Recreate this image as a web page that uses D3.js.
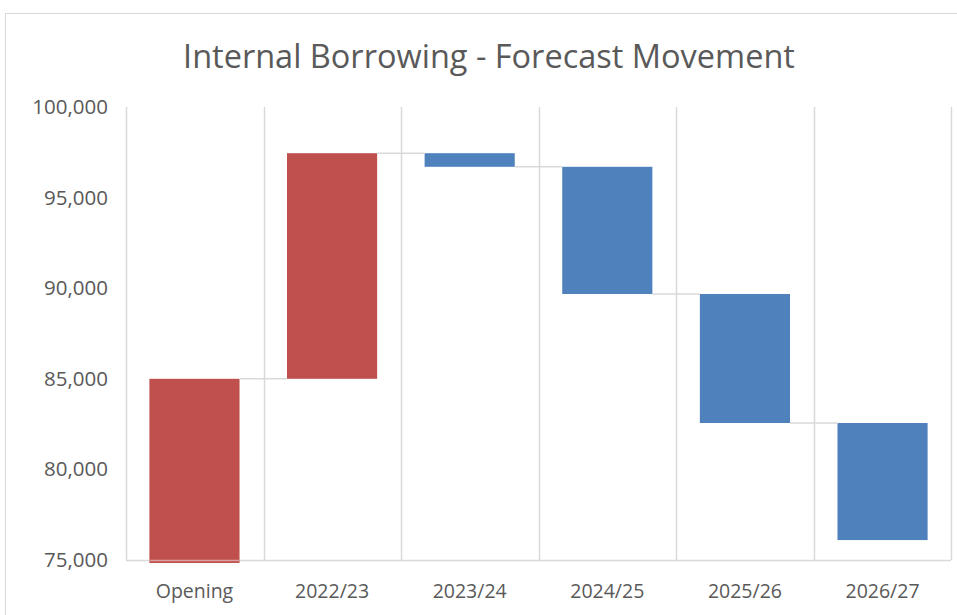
<!DOCTYPE html>
<html>
<head>
<meta charset="utf-8">
<script src="https://cdn.jsdelivr.net/npm/d3@7"></script>
<style>
  body { margin: 0; background: #fff; }
  text { font-family: "Open Sans", "Liberation Sans", sans-serif; }
</style>
</head>
<body>
<div id="chart"></div>
<script>
// waterfall data
var categories = ["Opening", "2022/23", "2023/24", "2024/25", "2025/26", "2026/27"];
var movements = [85000, 12450, -750, -7020, -7120, -6460];
var yTicks = [75000, 80000, 85000, 90000, 95000, 100000];

var svgWidth = 957;
var svgHeight = 615;
var margin = { top: 107, right: 6, bottom: 55, left: 126 };
var width = svgWidth - margin.left - margin.right;
var height = svgHeight - margin.top - margin.bottom;

var svg = d3.select("#chart")
  .append("svg")
  .attr("width", svgWidth)
  .attr("height", svgHeight);

// chart frame
svg.append("rect")
  .attr("x", 5.5).attr("y", 13.5)
  .attr("width", 960).attr("height", 620)
  .attr("fill", "none")
  .attr("stroke", "#d9d9d9");

svg.append("text")
  .attr("x", 489)
  .attr("y", 68)
  .attr("text-anchor", "middle")
  .style("font-size", "32.5px")
  .style("fill", "#595959")
  .text("Internal Borrowing - Forecast Movement");

var chart = svg.append("g")
  .attr("transform", "translate(" + margin.left + "," + margin.top + ")");

// build start / end for each step
var running = 0;
var steps = categories.map(function(c, i) {
  var start = i === 0 ? null : running;
  running += movements[i];
  return { cat: c, start: start, end: running, value: movements[i] };
});

var x = d3.scaleBand().domain(categories).range([0, width]).paddingInner(0.345).paddingOuter(0.17);
var y = d3.scaleLinear().domain([75000, 100000]).range([height, 0]);

// vertical gridlines at category boundaries
var step = width / categories.length;
chart.selectAll("line.grid")
  .data(d3.range(categories.length + 1))
  .enter()
  .append("line")
  .attr("class", "grid")
  .attr("x1", function(d) { return Math.round(d * step) + 0.5; })
  .attr("x2", function(d) { return Math.round(d * step) + 0.5; })
  .attr("y1", 0)
  .attr("y2", height)
  .attr("stroke", "#d9d9d9")
  .attr("stroke-width", 1.5);

// baseline
chart.append("line")
  .attr("x1", 0).attr("x2", width)
  .attr("y1", height + 0.5).attr("y2", height + 0.5)
  .attr("stroke", "#d9d9d9")
  .attr("stroke-width", 1.5);

// bars
chart.selectAll("rect.bar")
  .data(steps)
  .enter()
  .append("rect")
  .attr("class", "bar")
  .attr("x", function(d) { return x(d.cat); })
  .attr("width", x.bandwidth())
  .attr("y", function(d) {
    var lo = d.start === null ? 75000 : d.start;
    return y(Math.max(lo, d.end));
  })
  .attr("height", function(d) {
    if (d.start === null) return height - y(d.end) + 3;
    return Math.abs(y(d.start) - y(d.end));
  })
  .attr("fill", function(d) { return d.value >= 0 ? "#c0504d" : "#4f81bd"; });

// redraw baseline over opening bar
chart.append("line")
  .attr("x1", x(categories[0])).attr("x2", x(categories[0]) + x.bandwidth())
  .attr("y1", height + 0.5).attr("y2", height + 0.5)
  .attr("stroke", "#d9a0a0")
  .attr("stroke-width", 1.5);

// connectors
chart.selectAll("line.conn")
  .data(steps.slice(0, -1))
  .enter()
  .append("line")
  .attr("class", "conn")
  .attr("x1", function(d) { return x(d.cat) + x.bandwidth(); })
  .attr("x2", function(d, i) { return x(categories[i + 1]); })
  .attr("y1", function(d) { return y(d.end); })
  .attr("y2", function(d) { return y(d.end); })
  .attr("stroke", "#d9d9d9")
  .attr("stroke-width", 1.5);

// y axis
var leftAxis = d3.axisLeft(y).tickValues(yTicks).tickSize(0).tickPadding(18).tickFormat(d3.format(","));
var yAxis = chart.append("g").call(leftAxis);
yAxis.select(".domain").remove();
yAxis.selectAll("text").style("font-size", "20.5px").style("fill", "#595959");

// x axis
var bottomAxis = d3.axisBottom(x).tickSize(0).tickPadding(24);
var xAxis = chart.append("g").attr("transform", "translate(0," + height + ")").call(bottomAxis);
xAxis.select(".domain").remove();
xAxis.selectAll("text").style("font-size", "19.5px").style("fill", "#595959");
</script>
</body>
</html>
